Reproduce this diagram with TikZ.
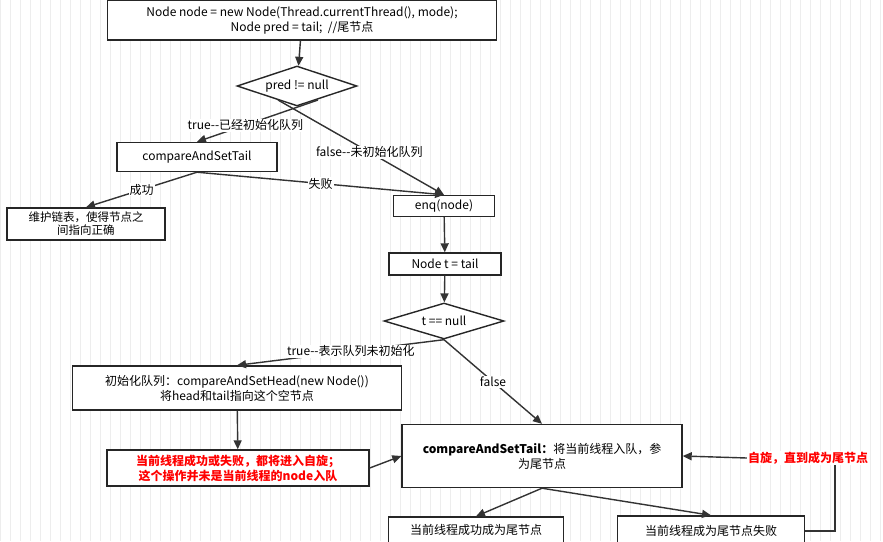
\documentclass[tikz,border=0pt]{standalone}
\usepackage{fontspec}
\setmainfont{Noto Sans CJK SC}
\usetikzlibrary{shapes.geometric,arrows.meta}
\begin{document}
\begin{tikzpicture}[x=1pt,y=-1pt,
  font=\fontsize{12}{15}\selectfont,
  box/.style={draw=black!85,line width=1.4pt,fill=white,align=center,inner sep=2pt},
  dia/.style={draw=black!85,line width=1.4pt,fill=white,diamond,aspect=3,inner sep=0pt},
  arr/.style={draw=black!80,line width=1.4pt,-{Triangle[length=9pt,width=8pt]}},
  lab/.style={fill=white,inner sep=1pt},
  red/.style={text=red,font=\fontsize{12}{15}\selectfont\bfseries}]
\useasboundingbox (0,0) rectangle (883,541);
\fill[white] (0,0) rectangle (883,541);
\draw[black!7,line width=0.5pt] (0,0) grid[step=10] (883,541);
\node[box,minimum width=389,minimum height=40] (n0) at (302,20) {Node node = new Node(Thread.currentThread(), mode);\\Node pred = tail;\ \ //尾节点};
\node[dia,minimum width=120,minimum height=40] (d1) at (297,86) {pred != null};
\node[box,minimum width=160,minimum height=29] (cas) at (197,157) {compareAndSetTail};
\node[box,minimum width=158,minimum height=32,text width=150,font=\fontsize{11.5}{13}\selectfont] (wh) at (86,224) {维护链表，使得节点之\\间指向正确};
\node[box,minimum width=101,minimum height=21] (enq) at (444,206) {enq(node)};
\node[box,minimum width=112,minimum height=22] (nt) at (445,264) {Node t = tail};
\node[dia,minimum width=120,minimum height=36] (d2) at (444,321) {t == null};
\node[box,minimum width=329,minimum height=44] (init) at (237,388) {初始化队列：compareAndSetHead(new Node())\\将head和tail指向这个空节点};
\node[box,minimum width=262,minimum height=36,red] (rb) at (238,468) {当前线程成功或失败，都将进入自旋；\\这个操作并未是当前线程的node入队};
\node[box,minimum width=280,minimum height=63,text width=265] (big) at (542,456) {\textbf{compareAndSetTail：}将当前线程入队，参\\\hspace*{0pt}\hfill 为尾节点\hfill\hspace*{0pt}};
\node[box,minimum width=175,minimum height=26] (ok) at (476,530) {当前线程成功成为尾节点};
\node[box,minimum width=187,minimum height=30] (fail) at (711,531) {当前线程成为尾节点失败};
\node[red,fill=white,inner sep=1pt] (spin) at (808,458) {自旋，直到成为尾节点};
\draw[arr] (n0) -- (d1);
\draw[arr] (318,100) -- (cas.north) node[lab,pos=0.6] {true-{}-已经初始化队列};
\draw[arr] (278,100) -- (enq.north) node[lab,pos=0.55] {false-{}-未初始化队列};
\draw[arr] (cas.south) -- (wh.north) node[lab,midway] {成功};
\draw[arr] (cas.south) -- (enq.north) node[lab,midway] {失败};
\draw[arr] (enq) -- (nt);
\draw[arr] (nt) -- (d2);
\draw[arr] (d2.south) -- (init.north) node[lab,pos=0.45] {true-{}-表示队列未初始化};
\draw[arr] (d2.south) -- (big.north) node[lab,midway] {false};
\draw[arr] (init) -- (rb);
\draw[arr] (rb.east) -- (big.west);
\draw[arr] (big.south) -- (ok.north);
\draw[arr] (big.south) -- (fail.north);
\draw[black!80,line width=1.4pt] (fail.east) -| ([xshift=27pt]spin.south);
\draw[arr] (spin.west) -- (big.east);
\end{tikzpicture}
\end{document}
